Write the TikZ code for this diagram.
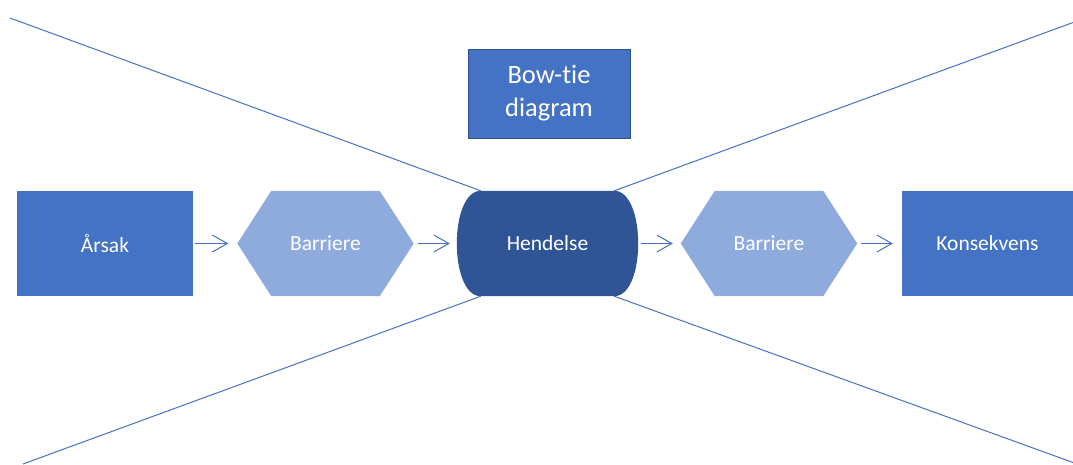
\documentclass[tikz,border=0pt]{standalone}
\usepackage{fontspec}
\setmainfont{Carlito}[Ligatures=NoCommon]
\usetikzlibrary{arrows.meta,backgrounds}
\definecolor{accent}{HTML}{4472C4}
\definecolor{darkblue}{HTML}{2F5597}
\definecolor{lightblue}{HTML}{8FAADC}
\definecolor{frame}{HTML}{2F528F}
\tikzset{
  box/.style={minimum width=176pt, minimum height=105pt, inner sep=0pt,
    text=white, font=\fontsize{21.5}{26}\selectfont},
  solidbox/.style={box, fill=accent},
  flow/.style={draw=accent, line width=1pt,
    -{Straight Barb[length=15pt,width=17pt,line width=1pt]}},
  tie/.style={draw=accent, line width=1pt},
}
\begin{document}
\begin{tikzpicture}[x=1pt,y=-1pt]
\useasboundingbox (0,0) rectangle (1073,464);
\clip (0,0) rectangle (1073,464);

% main chain of the bow-tie
\node[solidbox] (cause) at (105,243.5) {Årsak};
\node[box] (bar1) at (325.5,243.5) {Barriere};
\node[box, minimum width=181pt] (event) at (547.5,243.5) {Hendelse};
\node[box] (bar2) at (769,243.5) {Barriere};
\node[solidbox, minimum width=171pt] (cons) at (987.5,243.5) {Konsekvens};

% title box
\node[box, fill=accent, draw=frame, line width=0.8pt, minimum width=162pt,
      minimum height=89pt, align=center,
      font=\fontsize{26.5}{33}\selectfont] (title) at (549,93.5)
      {Bow-tie\\diagram};

% shapes behind the labels
\begin{scope}[on background layer]
  \foreach \b in {bar1,bar2}{
    \fill[lightblue] (\b.west) -- ([xshift=34pt]\b.north west)
      -- ([xshift=-34pt]\b.north east) -- (\b.east)
      -- ([xshift=-34pt]\b.south east) -- ([xshift=34pt]\b.south west) -- cycle;
  }
  \fill[darkblue] ([xshift=24pt]event.north west) -- ([xshift=-24pt]event.north east)
    .. controls ([xshift=8pt]event.north east) and ([xshift=8pt]event.south east)
    .. ([xshift=-24pt]event.south east) -- ([xshift=24pt]event.south west)
    .. controls ([xshift=-8pt]event.south west) and ([xshift=-8pt]event.north west)
    .. cycle;
\end{scope}

% arrows between the stages
\draw[flow, shorten <=2pt, shorten >=9pt] (cause.east) -- (bar1.west);
\draw[flow, shorten <=4pt, shorten >=7pt] (bar1.east) -- (event.west);
\draw[flow, shorten <=3pt, shorten >=8pt] (event.east) -- (bar2.west);
\draw[flow, shorten <=4pt, shorten >=9pt] (bar2.east) -- (cons.west);

% the wings of the tie
\coordinate (tl) at (10,18);
\coordinate (tr) at (1073,22.5);
\coordinate (bl) at (23,464);
\coordinate (br) at (1073,462.5);
\draw[tie] (tl) -- ([xshift=24pt]event.north west);
\draw[tie] ([xshift=-24pt]event.north east) -- (tr);
\draw[tie] ([xshift=24pt]event.south west) -- (bl);
\draw[tie] ([xshift=-24pt]event.south east) -- (br);
\end{tikzpicture}
\end{document}
